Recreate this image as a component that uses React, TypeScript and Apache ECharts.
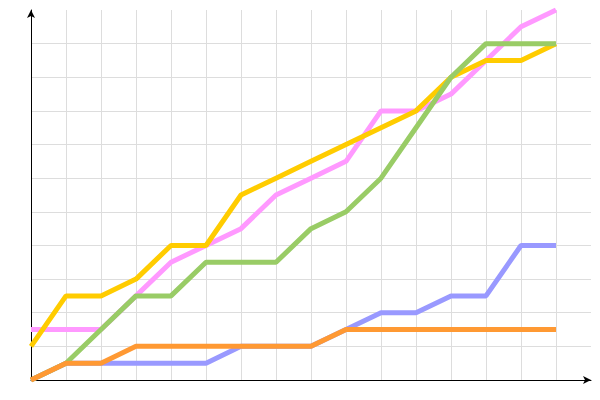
import React, { useEffect, useRef } from "react";
import * as echarts from "echarts";

const xIndex = [0, 1, 2, 3, 4, 5, 6, 7, 8, 9, 10, 11, 12, 13, 14, 15];
const blueValues = [0, 0.5, 0.5, 0.5, 0.5, 0.5, 1, 1, 1, 1.5, 2, 2, 2.5, 2.5, 4, 4];
const pinkValues = [1.5, 1.5, 1.5, 2.5, 3.5, 4, 4.5, 5.5, 6, 6.5, 8, 8, 8.5, 9.5, 10.5, 11];
const yellowValues = [1, 2.5, 2.5, 3, 4, 4, 5.5, 6, 6.5, 7, 7.5, 8, 9, 9.5, 9.5, 10];
const greenValues = [0, 0.5, 1.5, 2.5, 2.5, 3.5, 3.5, 3.5, 4.5, 5, 6, 7.5, 9, 10, 10, 10];
const orangeValues = [0, 0.5, 0.5, 1, 1, 1, 1, 1, 1, 1.5, 1.5, 1.5, 1.5, 1.5, 1.5, 1.5];

const seriesDefs = [
  { name: "blue", values: blueValues, color: "#9999ff" },
  { name: "pink", values: pinkValues, color: "#ff99ff" },
  { name: "yellow", values: yellowValues, color: "#ffcc00" },
  { name: "green", values: greenValues, color: "#99cc66" },
  { name: "orange", values: orangeValues, color: "#ff9933" },
];

export default function App() {
  const ref = useRef<HTMLDivElement>(null);
  useEffect(() => {
    if (!ref.current) return;
    const chart = echarts.init(ref.current, null, { renderer: "svg" });
    const axisCommon = {
      type: "value" as const,
      interval: 1,
      min: 0,
      axisLabel: { show: false },
      axisTick: { show: false },
      axisLine: {
        show: true,
        onZero: false,
        symbol: ["none", "arrow"],
        symbolSize: [6, 8],
        lineStyle: { color: "#000", width: 1 },
      },
      splitLine: {
        show: true,
        showMaxLine: false,
        lineStyle: { color: "#dddddd", width: 1 },
      },
    };
    chart.setOption({
      animation: false,
      backgroundColor: "#ffffff",
      grid: { left: 31, right: 9, top: 10, bottom: 20, containLabel: false },
      xAxis: { ...axisCommon, max: 16 },
      yAxis: { ...axisCommon, max: 11 },
      series: seriesDefs.map((s) => ({
        name: s.name,
        type: "line",
        symbol: "none",
        data: xIndex.map((x, i) => [x, s.values[i]]),
        lineStyle: { color: s.color, width: 5 },
        itemStyle: { color: s.color },
      })),
    });
    return () => chart.dispose();
  }, []);
  return <div ref={ref} style={{ width: 600, height: 400, position: "absolute", left: 0, top: 0 }} />;
}
